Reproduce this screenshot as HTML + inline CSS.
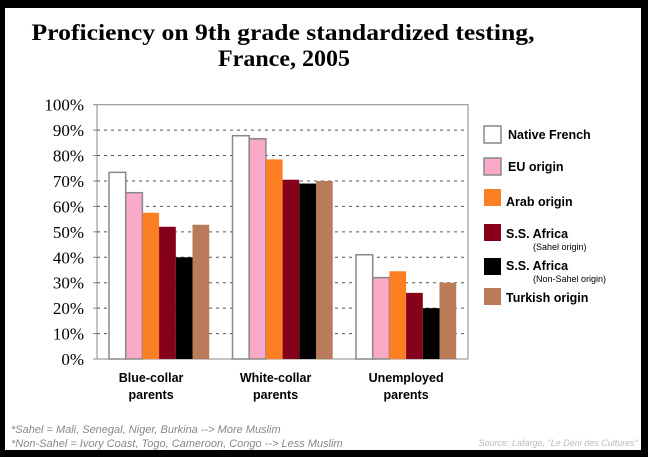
<!DOCTYPE html>
<html><head><meta charset="utf-8"><style>
html,body{margin:0;padding:0;background:#000;}
#wrap{position:relative;width:648px;height:457px;background:#000;overflow:hidden;}
#card{position:absolute;left:5px;top:8px;width:636px;height:442px;background:#fff;}
svg{position:absolute;left:0;top:0;}
</style></head><body>
<div id="wrap">
<div id="card"></div>
<svg id="chart" width="648" height="457"></svg>
</div>
<script>
const categories = [["Blue-collar","parents"],["White-collar","parents"],["Unemployed","parents"]];
const seriesNames = ["Native French","EU origin","Arab origin","S.S. Africa","S.S. Africa","Turkish origin"];
const seriesSub = ["","","","(Sahel origin)","(Non-Sahel origin)",""];
const nativeFrench = [73.4, 87.8, 41];
const euOrigin = [65.4, 86.6, 32];
const arabOrigin = [57.5, 78.5, 34.5];
const sahel = [52, 70.5, 26];
const nonSahel = [40, 69, 20];
const turkish = [52.8, 70, 30];
const yTicks = [0,10,20,30,40,50,60,70,80,90,100];
const colors = ["#ffffff","#fba9c8","#fd7f23","#850018","#000000","#b97b58"];
const series = [nativeFrench, euOrigin, arabOrigin, sahel, nonSahel, turkish];

const NS="http://www.w3.org/2000/svg";
const svg=document.getElementById('chart');
function mk(t,a,p){const e=document.createElementNS(NS,t);for(const k in a)e.setAttribute(k,a[k]);(p||svg).appendChild(e);return e;}
const x0=97,x1=468,yTop=104.7,yBot=359;
const y=v=>yBot-(v/100)*(yBot-yTop);
const groupStart=[109,233,356], barW=16.7;
const groupX=i=>groupStart[0]+i*((groupStart[2]-groupStart[0])/2);
const labelShift=[-8,-7,0];

// title
let t=mk('text',{x:283,y:40,'text-anchor':'middle','font-family':'"Liberation Serif",serif','font-weight':'bold','font-size':'23',textLength:503,lengthAdjust:'spacingAndGlyphs'});
t.textContent='Proficiency on 9th grade standardized testing,';


t=mk('text',{x:284,y:66,'text-anchor':'middle','font-family':'"Liberation Serif",serif','font-weight':'bold','font-size':'23',textLength:132,lengthAdjust:'spacingAndGlyphs'});
t.textContent='France, 2005';



// plot box
const box=mk('rect',{x:x0,y:yTop,width:x1-x0,height:yBot-yTop,fill:'none',stroke:'#888','stroke-width':1});


yTicks.forEach(v=>{
  if(v>0&&v<100){const g=mk('line',{x1:x0,x2:x1,y1:y(v),y2:y(v),stroke:'#555','stroke-dasharray':'3,4','stroke-width':1});
  
  }
  const tk=mk('line',{x1:x0-4,x2:x0,y1:y(v),y2:y(v),stroke:'#888'});
  
  
  const l=mk('text',{x:x0-13,y:y(v)+6,'text-anchor':'end','font-family':'"Liberation Serif",serif','font-size':'17'});
  l.textContent=v+'%';
  
  
});
// bars
series.forEach((s,si)=>{
  s.forEach((v,ci)=>{
    const r=mk('rect',{x:groupX(ci)+si*barW,y:y(v),width:barW,height:y(0)-y(v),fill:colors[si],stroke:si<2?'#888':'none','stroke-width':si<2?1.5:0});
    
    
  });
});
// category labels
categories.forEach((c,ci)=>{
  const cx=groupX(ci)+barW*3+labelShift[ci];
  c.forEach((ln,li)=>{
    const l=mk('text',{x:cx,y:382+li*17,'text-anchor':'middle','font-family':'"Liberation Sans",sans-serif','font-weight':'bold','font-size':'12.5'});
    l.textContent=ln;
    
    
  });
});
// legend
const legY=[126,158,189,224,258,288];
const textY=[139,171,206,238,270,302];
seriesNames.forEach((n,i)=>{
  const r=mk('rect',{x:484,y:legY[i],width:17,height:17,fill:colors[i],stroke:i<2?'#888':'none','stroke-width':1.5});
  
  
  const l=mk('text',{x:i<2?508:506,y:textY[i],'font-family':'"Liberation Sans",sans-serif','font-weight':'bold','font-size':'12.5'});
  l.textContent=n;
  
  
  if(seriesSub[i]){const s=mk('text',{x:533,y:textY[i]+12,'font-family':'"Liberation Sans",sans-serif','font-size':'9'});
  s.textContent=seriesSub[i];
  
  }
});
// footnotes
const f1=mk('text',{x:11,y:433,'font-family':'"Liberation Sans",sans-serif','font-style':'italic','font-size':'11',fill:'#888'});
f1.textContent='*Sahel = Mali, Senegal, Niger, Burkina --> More Muslim';


const f2=mk('text',{x:11,y:447,'font-family':'"Liberation Sans",sans-serif','font-style':'italic','font-size':'11',fill:'#888'});
f2.textContent='*Non-Sahel = Ivory Coast, Togo, Cameroon, Congo --> Less Muslim';


const f3=mk('text',{x:638,y:446,'text-anchor':'end','font-family':'"Liberation Sans",sans-serif','font-style':'italic','font-size':'9',fill:'#bbb'});
f3.textContent='Source: Lafarge, "Le Déni des Cultures"';


</script>
</body></html>
